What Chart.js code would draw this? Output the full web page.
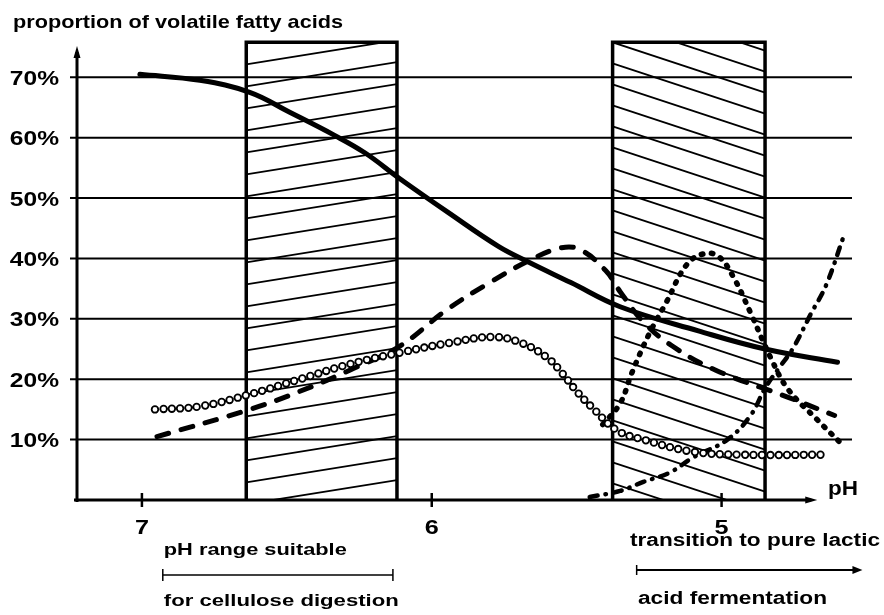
<!DOCTYPE html>
<html>
<head>
<meta charset="utf-8">
<title>Volatile fatty acids and pH</title>
<script src="https://cdn.jsdelivr.net/npm/chart.js@4.4.1/dist/chart.umd.min.js"></script>
<style>
    html, body { margin: 0; padding: 0; background: #fff; }
    #wrap { width: 884px; height: 615px; }
</style>
</head>
<body>
<div id="wrap"><canvas id="vfa-chart" width="884" height="615"></canvas></div>
<script>
// ticks
const yTicks = [10, 20, 30, 40, 50, 60, 70];
const xTicks = [7, 6, 5];

// solid curve
const solidPH = [7.007, 6.80, 6.628, 6.49, 6.34, 6.231, 6.11, 5.94, 5.77, 5.67, 5.52, 5.35, 5.08, 4.85, 4.60];
const solidVal = [70.5, 69.5, 67.5, 64.2, 60.5, 57.5, 53.2, 47.5, 42, 39.5, 36, 32, 28, 25, 22.8];

// dashed curve
const dashPH = [6.948, 6.628, 6.455, 6.283, 6.11, 5.948, 5.80, 5.67, 5.56, 5.49, 5.40, 5.35, 5.27, 5.17, 5.02, 4.77, 4.61];
const dashVal = [10.5, 15, 18, 21.5, 25.5, 31.5, 36, 39.5, 41.7, 41.5, 38, 34.5, 29.5, 25.5, 21.5, 17, 14];

// open circles curve
const ringPH = [6.955, 6.80, 6.628, 6.455, 6.283, 6.10, 5.94, 5.79, 5.69, 5.60, 5.55, 5.50, 5.44, 5.36, 5.27, 5.10, 4.93, 4.63];
const ringVal = [15, 15.5, 17.5, 20, 22.5, 24.5, 26, 27, 26, 23.5, 21, 18, 15, 11.5, 10, 8, 7.5, 7.5];

// dotted curve (lactic peak)
const dotPH = [5.41, 5.35, 5.31, 5.25, 5.19, 5.12, 5.06, 5.01, 4.96, 4.90, 4.83, 4.77, 4.67, 4.58];
const dotVal = [12.5, 16, 21, 27.5, 32.8, 39, 40.8, 40.3, 37, 31, 23.5, 18.3, 13.3, 9];

// dash-dot curve
const dashDotPH = [5.455, 5.35, 5.27, 5.18, 5.10, 4.98, 4.90, 4.85, 4.80, 4.755, 4.69, 4.64, 4.58];
const dashDotVal = [0.5, 1.5, 3, 4.5, 7, 10, 14, 18.5, 22, 25, 31, 35.5, 43.5];

// hatched pH ranges [from, to] and their top (%)
const hatchRanges = [[6.64, 6.12], [5.376, 4.85]];
const hatchTop = 75.8;

const FONT = '"Liberation Sans", Arial, sans-serif';

function toPoints(xs, ys) {
    return xs.map(function (x, i) {
        return {x: x, y: ys[i]};
    });
}

// draws text stretched/squeezed to a given width
function fitText(ctx, text, x, y, width, size) {
    ctx.save();
    ctx.font = 'bold ' + size + 'px ' + FONT;
    const w = ctx.measureText(text).width;
    ctx.translate(x, y);
    ctx.scale(width / w, 1);
    ctx.textAlign = 'left';
    ctx.textBaseline = 'alphabetic';
    ctx.fillText(text, 0, 0);
    ctx.restore();
}

function scaledText(ctx, text, x, y, sx, size, align) {
    ctx.save();
    ctx.font = 'bold ' + size + 'px ' + FONT;
    ctx.translate(x, y);
    ctx.scale(sx, 1);
    ctx.textAlign = align;
    ctx.textBaseline = 'alphabetic';
    ctx.fillText(text, 0, 0);
    ctx.restore();
}

function line(ctx, x1, y1, x2, y2, w) {
    ctx.lineWidth = w;
    ctx.beginPath();
    ctx.moveTo(x1, y1);
    ctx.lineTo(x2, y2);
    ctx.stroke();
}

const backdrop = {
    id: 'backdrop',
    beforeDatasetsDraw: function (chart) {
        const ctx = chart.ctx;
        const xs = chart.scales.x;
        const ys = chart.scales.y;
        const y0 = ys.getPixelForValue(0);
        const xLeft = xs.left;

        ctx.save();
        ctx.strokeStyle = '#000';
        ctx.fillStyle = '#000';
        ctx.lineCap = 'butt';

        // grid lines
        yTicks.forEach(function (t) {
            const py = ys.getPixelForValue(t);
            line(ctx, xLeft - 7, py, xs.right, py, 2);
        });

        // hatched boxes
        const top = ys.getPixelForValue(hatchTop);
        hatchRanges.forEach(function (r, i) {
            const a = xs.getPixelForValue(r[0]);
            const b = xs.getPixelForValue(r[1]);
            ctx.save();
            ctx.beginPath();
            ctx.rect(a, top, b - a, y0 - top);
            ctx.clip();
            const slope = i === 0 ? -0.16 : 0.33;
            const gap = i === 0 ? 22 : 21;
            for (let k = -6; k < 30; k++) {
                const yy = top + k * gap;
                line(ctx, a, yy, b, yy + slope * (b - a), 1.8);
            }
            ctx.restore();
            ctx.lineWidth = 3.5;
            ctx.beginPath();
            ctx.moveTo(a, y0);
            ctx.lineTo(a, top);
            ctx.lineTo(b, top);
            ctx.lineTo(b, y0);
            ctx.stroke();
        });

        // y axis with arrow
        line(ctx, xLeft, y0 + 2, xLeft, 52, 3);
        ctx.beginPath();
        ctx.moveTo(xLeft, 46);
        ctx.lineTo(xLeft - 3.5, 58);
        ctx.lineTo(xLeft + 3.5, 58);
        ctx.closePath();
        ctx.fill();

        // x axis with arrow
        const xEnd = xs.getPixelForValue(4.67);
        line(ctx, xLeft - 3, y0, xEnd - 6, y0, 3);
        ctx.beginPath();
        ctx.moveTo(xEnd, y0);
        ctx.lineTo(xEnd - 12, y0 - 3.5);
        ctx.lineTo(xEnd - 12, y0 + 3.5);
        ctx.closePath();
        ctx.fill();

        xTicks.forEach(function (t) {
            const px = xs.getPixelForValue(t);
            line(ctx, px, y0 - 7, px, y0 + 7, 2.5);
        });
        ctx.restore();
    },
    afterDraw: function (chart) {
        const ctx = chart.ctx;
        const xs = chart.scales.x;
        const ys = chart.scales.y;

        ctx.save();
        ctx.fillStyle = '#000';
        ctx.strokeStyle = '#000';

        fitText(ctx, 'proportion of volatile fatty acids', 13, 28, 330, 19);

        yTicks.forEach(function (t) {
            scaledText(ctx, t + '%', 59, ys.getPixelForValue(t) + 7.5, 1.17, 21, 'right');
        });
        xTicks.forEach(function (t) {
            scaledText(ctx, String(t), xs.getPixelForValue(t), 534, 1.2, 21, 'center');
        });
        fitText(ctx, 'pH', 828, 495, 30, 20);

        // cellulose range bracket
        const b1 = xs.getPixelForValue(6.928);
        const b2 = xs.getPixelForValue(6.134);
        fitText(ctx, 'pH range suitable', b1 + 1, 555, 183, 17);
        line(ctx, b1, 575, b2, 575, 1.5);
        line(ctx, b1, 569, b1, 581, 1.5);
        line(ctx, b2, 569, b2, 581, 1.5);
        fitText(ctx, 'for cellulose digestion', b1 + 1, 606, 235, 17);

        // lactic transition arrow
        const a1 = xs.getPixelForValue(5.293);
        const a2 = xs.getPixelForValue(4.514);
        fitText(ctx, 'transition to pure lactic', 630, 546, 250, 18);
        line(ctx, a1, 570, a2 - 6, 570, 1.8);
        line(ctx, a1, 565, a1, 575, 1.5);
        ctx.beginPath();
        ctx.moveTo(a2, 570);
        ctx.lineTo(a2 - 10, 566);
        ctx.lineTo(a2 - 10, 574);
        ctx.closePath();
        ctx.fill();
        fitText(ctx, 'acid fermentation', 638, 604, 189, 18);

        ctx.restore();
    }
};

const common = {
    fill: false,
    pointRadius: 0,
    tension: 0.4,
    borderColor: '#000',
    borderCapStyle: 'round'
};

new Chart(document.getElementById('vfa-chart'), {
    type: 'line',
    data: {
        datasets: [
            Object.assign({}, common, {
                label: 'rings (inner)',
                data: toPoints(ringPH, ringVal),
                borderColor: '#fff',
                borderWidth: 4.8,
                borderDash: [0, 8.4],
                order: 0
            }),
            Object.assign({}, common, {
                label: 'rings',
                data: toPoints(ringPH, ringVal),
                borderWidth: 8.4,
                borderDash: [0, 8.4],
                order: 1
            }),
            Object.assign({}, common, {
                label: 'solid',
                data: toPoints(solidPH, solidVal),
                borderWidth: 5,
                order: 2
            }),
            Object.assign({}, common, {
                label: 'dashed',
                data: toPoints(dashPH, dashVal),
                borderWidth: 5,
                borderDash: [12, 13],
                order: 3
            }),
            Object.assign({}, common, {
                label: 'dotted',
                data: toPoints(dotPH, dotVal),
                borderWidth: 5.5,
                borderDash: [1.5, 8.5],
                order: 4
            }),
            Object.assign({}, common, {
                label: 'dash-dot',
                data: toPoints(dashDotPH, dashDotVal),
                borderWidth: 4.5,
                borderDash: [8, 8, 0.5, 8],
                order: 5
            })
        ]
    },
    options: {
        responsive: false,
        animation: false,
        events: [],
        layout: {
            padding: {left: 77, right: 32, top: 29, bottom: 115}
        },
        scales: {
            x: {type: 'linear', min: 4.55, max: 7.224, reverse: true, display: false},
            y: {type: 'linear', min: 0, max: 78, display: false}
        },
        plugins: {
            legend: {display: false},
            tooltip: {enabled: false}
        }
    },
    plugins: [backdrop]
});
</script>
</body>
</html>
